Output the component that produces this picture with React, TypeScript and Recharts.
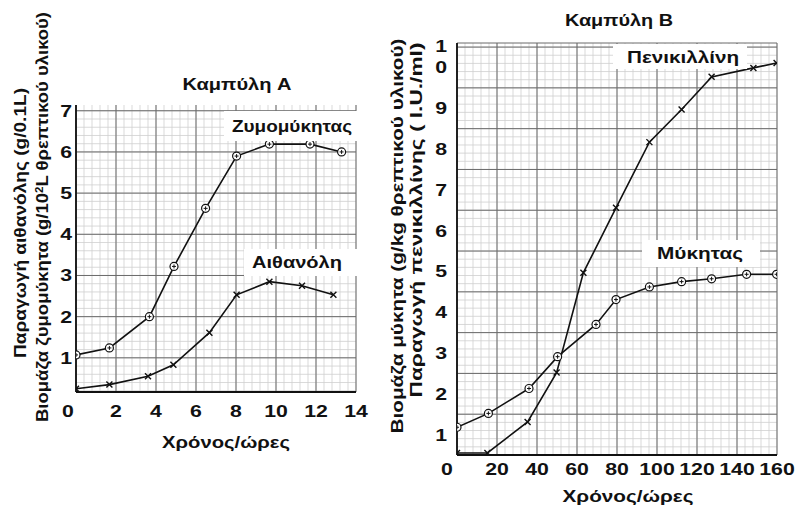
import React from 'react';
import { LineChart, Line, XAxis, YAxis, CartesianGrid } from 'recharts';

// Καμπύλη A
const yeastHours = [0, 1.67, 3.67, 4.9, 6.48, 8.03, 9.67, 11.7, 13.28];
const yeastBiomass = [1.07, 1.24, 2.0, 3.22, 4.63, 5.9, 6.19, 6.19, 6.0];
const ethanolHours = [0, 1.67, 3.6, 4.87, 6.67, 8.03, 9.67, 11.3, 12.87];
const ethanolProd = [0.25, 0.35, 0.55, 0.83, 1.61, 2.53, 2.85, 2.75, 2.53];
const ticksAX = [0, 2, 4, 6, 8, 10, 12, 14];
const ticksAY = [1, 2, 3, 4, 5, 6, 7];

// Καμπύλη B
const penHours = [0, 15.2, 35.3, 49.8, 63.2, 79.5, 96.2, 112.3, 127.3, 148.2, 159.8];
const penProd = [0.55, 0.55, 1.31, 2.52, 4.97, 6.56, 8.17, 8.97, 9.77, 9.99, 10.11];
const fungusHours = [0, 15.7, 36, 50.3, 69.5, 79.5, 96.2, 112.3, 127.3, 144.8, 159.8];
const fungusBiomass = [1.18, 1.52, 2.13, 2.91, 3.7, 4.31, 4.62, 4.75, 4.82, 4.93, 4.93];
const ticksBX = [0, 20, 40, 60, 80, 100, 120, 140, 160];
const ticksBY = [1, 2, 3, 4, 5, 6, 7, 8, 9, 10];

const zip = (xs: number[], ys: number[]) => xs.map((x, i) => ({ x, y: ys[i] }));

const range = (a: number, b: number, step: number) => {
  const out: number[] = [];
  for (let v = a; v <= b + 1e-9; v += step) out.push(Math.round(v * 1000) / 1000);
  return out;
};

const FONT = '"Liberation Sans", Arial, Helvetica, sans-serif';
const INK = '#111';
const txt = { fontFamily: FONT, fontWeight: 700, fill: INK } as any;

const Ring = (p: any) => {
  const { cx, cy, index } = p;
  if (cx == null || cy == null) return <g key={index} />;
  return (
    <g key={index}>
      <circle cx={cx} cy={cy} r={4} fill="#fff" stroke={INK} strokeWidth={1.2} />
      <path d={`M${cx - 2},${cy}h4M${cx},${cy - 2}v4`} stroke={INK} strokeWidth={1} />
    </g>
  );
};

const Cross = (p: any) => {
  const { cx, cy, index } = p;
  if (cx == null || cy == null) return <g key={index} />;
  return (
    <path
      key={index}
      d={`M${cx - 3},${cy - 3}L${cx + 3},${cy + 3}M${cx + 3},${cy - 3}L${cx - 3},${cy + 3}`}
      stroke={INK}
      strokeWidth={1.4}
    />
  );
};

// the scan's lettering is wide, so tick text is stretched sideways
const Num = ({ x, y, anchor, children }: any) => (
  <text transform={`translate(${x},${y}) scale(1.25,1)`} textAnchor={anchor} fontSize={17} style={txt}>
    {children}
  </text>
);

const makeXTick = (zeroShift: number) => (p: any) => {
  const { x, y, payload } = p;
  return <Num x={x + (payload.value === 0 ? zeroShift : 0)} y={y + 14} anchor="middle">{payload.value}</Num>;
};

const YTickA = (p: any) => {
  const { x, y, payload } = p;
  return <Num x={x + 2} y={y + 6} anchor="end">{payload.value}</Num>;
};

const YTickB = (p: any) => {
  const { x, y, payload } = p;
  if (payload.value === 10) {
    return (
      <g>
        <Num x={x - 4} y={y - 15} anchor="end">1</Num>
        <Num x={x - 4} y={y + 6} anchor="end">0</Num>
      </g>
    );
  }
  return <Num x={x - 4} y={y + 6} anchor="end">{payload.value}</Num>;
};

const lineProps = { type: 'linear' as const, stroke: INK, strokeWidth: 1.6, isAnimationActive: false, activeDot: false as any };

const Label = ({ x, y, len, size = 17, rot = false, children }: any) => (
  <text transform={`translate(${x},${y})${rot ? ' rotate(-90)' : ''}`} dy="0.36em" textAnchor="middle"
    fontSize={size} textLength={len} lengthAdjust="spacingAndGlyphs" style={txt}>
    {children}
  </text>
);

const MINOR = '#cfcfcf';
const MAJOR = '#6a6a6a';
const axisLine = { stroke: INK, strokeWidth: 1.8 };

export default function App() {
  return (
    <div style={{ position: 'absolute', left: 0, top: 0, width: 797, height: 505, background: '#fff' }}>
      <div style={{ position: 'absolute', left: 0, top: 0 }}>
        <LineChart width={400} height={460} margin={{ top: 105, left: 46, right: 44, bottom: 38 }}>
          <CartesianGrid stroke={MINOR} strokeWidth={0.8}
            horizontalValues={range(0.2, 7.0, 0.2)} verticalValues={range(0, 14, 0.4)} />
          <CartesianGrid stroke={MAJOR} strokeWidth={1}
            horizontalValues={ticksAY} verticalValues={ticksAX} />
          <XAxis dataKey="x" type="number" domain={[0, 14]} ticks={ticksAX} height={30} interval={0}
            tickLine={false} tickMargin={5} tick={makeXTick(-8)} axisLine={axisLine} allowDataOverflow />
          <YAxis type="number" domain={[0.17, 7.14]} ticks={ticksAY} width={30} interval={0}
            tickLine={false} tickMargin={0} tick={YTickA} axisLine={axisLine} allowDataOverflow />
          <Line {...lineProps} data={zip(yeastHours, yeastBiomass)} dataKey="y" dot={Ring} />
          <Line {...lineProps} data={zip(ethanolHours, ethanolProd)} dataKey="y" dot={Cross} />
        </LineChart>
      </div>
      <div style={{ position: 'absolute', left: 380, top: 0 }}>
        <LineChart width={417} height={505} margin={{ top: 43, left: 47, right: 20, bottom: 20 }}>
          <CartesianGrid stroke={MINOR} strokeWidth={0.8}
            horizontalValues={range(0.7, 10.5, 0.2)} verticalValues={range(0, 160, 4)} />
          <CartesianGrid stroke={MAJOR} strokeWidth={1}
            horizontalValues={[...range(0.5, 10.5, 1), 10.6]} verticalValues={range(0, 160, 20)} />
          <XAxis dataKey="x" type="number" domain={[0, 160]} ticks={ticksBX} height={30} interval={0}
            tickLine={false} tickMargin={0} tick={makeXTick(-10)} axisLine={axisLine} allowDataOverflow />
          <YAxis type="number" domain={[0.5, 10.6]} ticks={ticksBY} width={30} interval={0}
            tickLine={false} tickMargin={0} tick={YTickB} axisLine={axisLine} allowDataOverflow />
          <Line {...lineProps} data={zip(penHours, penProd)} dataKey="y" dot={Cross} />
          <Line {...lineProps} data={zip(fungusHours, fungusBiomass)} dataKey="y" dot={Ring} />
        </LineChart>
      </div>
      <svg width={797} height={505} style={{ position: 'absolute', left: 0, top: 0, pointerEvents: 'none' }}>
        <Label x={237} y={84} len={109}>Καμπύλη A</Label>
        <Label x={619} y={20} len={108}>Καμπύλη B</Label>

        <rect x={224} y={111} width={136} height={30} fill="#fff" />
        <Label x={292} y={126} len={120}>Ζυμομύκητας</Label>
        <rect x={244} y={249} width={114} height={27} fill="#fff" />
        <Label x={297} y={262} len={90}>Αιθανόλη</Label>
        <rect x={613} y={44} width={134} height={25} fill="#fff" />
        <Label x={683} y={57} len={112}>Πενικιλλίνη</Label>
        <rect x={642} y={240} width={118} height={27} fill="#fff" />
        <Label x={700} y={253} len={86}>Μύκητας</Label>

        <Label x={226} y={442} len={128}>Χρόνος/ώρες</Label>
        <Label x={628} y={496} len={131}>Χρόνος/ώρες</Label>

        <Label x={20} y={223} len={270} size={16} rot>Παραγωγή αιθανόλης (g/0.1L)</Label>
        <Label x={42} y={217} len={410} size={16} rot>
          Βιομάζα ζυμομύκητα (g/10<tspan fontSize={10} dy="-5">2</tspan><tspan dy="5">L θρεπτικού υλικού)</tspan>
        </Label>
        <Label x={397} y={236} len={395} size={17} rot>Βιομάζα μύκητα (g/kg θρεπτικού υλικού)</Label>
        <Label x={416} y={220} len={355} size={17} rot>Παραγωγή πενικιλλίνης ( I.U./ml)</Label>
      </svg>
    </div>
  );
}
